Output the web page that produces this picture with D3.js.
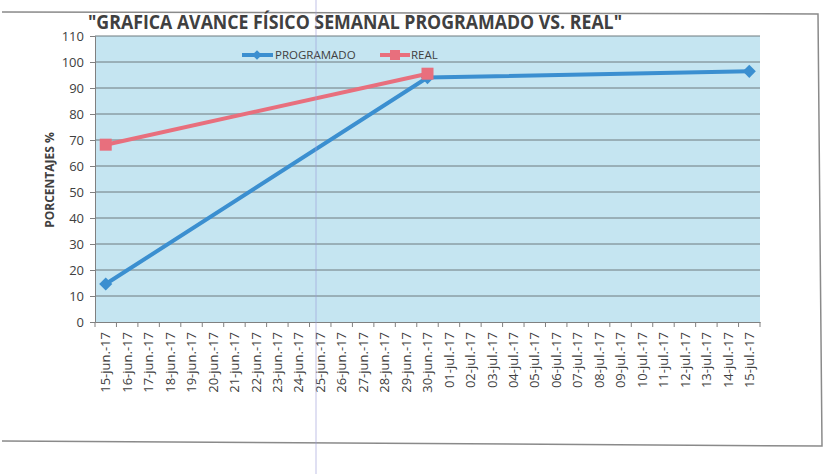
<!DOCTYPE html>
<html><head><meta charset="utf-8">
<script src="https://cdn.jsdelivr.net/npm/d3@7/dist/d3.min.js"></script>
<style>body{margin:0;background:#fff}</style>
</head><body><svg id="c" width="835" height="474"></svg>
<script>
const categories = ["15-jun.-17","16-jun.-17","17-jun.-17","18-jun.-17","19-jun.-17","20-jun.-17","21-jun.-17","22-jun.-17","23-jun.-17","24-jun.-17","25-jun.-17","26-jun.-17","27-jun.-17","28-jun.-17","29-jun.-17","30-jun.-17","01-jul.-17","02-jul.-17","03-jul.-17","04-jul.-17","05-jul.-17","06-jul.-17","07-jul.-17","08-jul.-17","09-jul.-17","10-jul.-17","11-jul.-17","12-jul.-17","13-jul.-17","14-jul.-17","15-jul.-17"];
const programadoDates = ["15-jun.-17","30-jun.-17","15-jul.-17"];
const programadoValues = [14.6, 94.0, 96.4];
const realDates = ["15-jun.-17","30-jun.-17"];
const realValues = [68.2, 95.5];
const yTicks = [0,10,20,30,40,50,60,70,80,90,100,110];
const title = "\"GRAFICA AVANCE FÍSICO SEMANAL PROGRAMADO VS. REAL\"";

const svg = d3.select("#c");
const L = 95, R = 760, T = 36, B = 322;
const x = d3.scaleBand().domain(categories).range([L, R]);
const y = d3.scaleLinear().domain([0, 110]).range([B, T]);

// chart border
svg.append("path").attr("d","M2,12 L818,14 L822,446 L2,441")
  .attr("fill","none").attr("stroke","#8a8a8a").attr("stroke-width",1.5);

// plot background
svg.append("rect").attr("x",L).attr("y",T).attr("width",R-L).attr("height",B-T).attr("fill","#c5e5f1");

// gridlines
svg.append("g").selectAll("line").data(yTicks.filter(d=>d>0)).join("line")
  .attr("x1",L).attr("x2",R).attr("y1",d=>y(d)).attr("y2",d=>y(d))
  .attr("stroke","#6f7a7e").attr("stroke-width",1);

// y axis
const ya = svg.append("g").attr("transform",`translate(${L},0)`)
  .call(d3.axisLeft(y).tickValues(yTicks).tickSize(5).tickPadding(6));
ya.select(".domain").attr("stroke","#808080");
ya.selectAll(".tick line").attr("stroke","#808080");
ya.selectAll("text").attr("font-family","'Open Sans',sans-serif").attr("font-size",13).attr("fill","#404040");

// x axis
const xa = svg.append("g").attr("transform",`translate(0,${B})`)
  .call(d3.axisBottom(x).tickSize(0).tickPadding(6));
xa.select(".domain").attr("stroke","#808080");
xa.selectAll(".tick text").attr("font-family","'Open Sans',sans-serif").attr("font-size",13).attr("fill","#404040")
  .attr("transform","rotate(-90)").attr("text-anchor","end").attr("x",-10).attr("y",0).attr("dx",0).attr("dy","0.36em");
// boundary ticks
svg.append("g").selectAll("line").data(categories.concat(["end"])).join("line")
  .attr("x1",(d,i)=>L+i*x.step()).attr("x2",(d,i)=>L+i*x.step())
  .attr("y1",B).attr("y2",B+5).attr("stroke","#808080");

// lines
const line = d3.line().x(d=>x(d[0])+x.bandwidth()/2).y(d=>y(d[1]));
const prog = programadoDates.map((d,i)=>[d,programadoValues[i]]);
const real = realDates.map((d,i)=>[d,realValues[i]]);
const blue = "#3b8fd0", red = "#e86f7d";

svg.append("path").datum(prog).attr("d",line).attr("fill","none").attr("stroke",blue).attr("stroke-width",4);
svg.append("g").selectAll("path").data(prog).join("path")
  .attr("d",d3.symbol(d3.symbolDiamond2,110))
  .attr("transform",d=>`translate(${x(d[0])+x.bandwidth()/2},${y(d[1])})`).attr("fill",blue);

svg.append("path").datum(real).attr("d",line).attr("fill","none").attr("stroke",red).attr("stroke-width",4);
svg.append("g").selectAll("rect").data(real).join("rect")
  .attr("x",d=>x(d[0])+x.bandwidth()/2-6).attr("y",d=>y(d[1])-6).attr("width",12).attr("height",12).attr("fill",red);

// legend
const lg = svg.append("g").attr("font-family","'Open Sans',sans-serif").attr("font-size",11.5).attr("fill","#404040");
lg.append("line").attr("x1",242).attr("x2",273).attr("y1",55).attr("y2",55).attr("stroke",blue).attr("stroke-width",4);
lg.append("path").attr("d",d3.symbol(d3.symbolDiamond2,60)).attr("transform","translate(257,55)").attr("fill",blue);
lg.append("text").attr("x",275).attr("y",59).text("PROGRAMADO");
lg.append("line").attr("x1",380).attr("x2",410).attr("y1",55).attr("y2",55).attr("stroke",red).attr("stroke-width",4);
lg.append("rect").attr("x",390).attr("y",50).attr("width",10).attr("height",10).attr("fill",red);
lg.append("text").attr("x",411).attr("y",59).text("REAL");

// title
svg.append("text").attr("x",88).attr("y",29).attr("textLength",534).attr("lengthAdjust","spacingAndGlyphs")
  .attr("font-family","'Open Sans',sans-serif").attr("font-weight","bold").attr("font-size",20).attr("fill","#404040").text(title);

// y axis title
svg.append("text").attr("transform","translate(54,180) rotate(-90)").attr("text-anchor","middle")
  .attr("font-family","'Open Sans',sans-serif").attr("font-weight","bold").attr("font-size",12).attr("fill","#404040").text("PORCENTAJES %");

// faint scan line
svg.append("line").attr("x1",316).attr("x2",316).attr("y1",0).attr("y2",474).attr("stroke","#9a9ad8").attr("stroke-width",1).attr("opacity",0.6);
</script></body></html>
